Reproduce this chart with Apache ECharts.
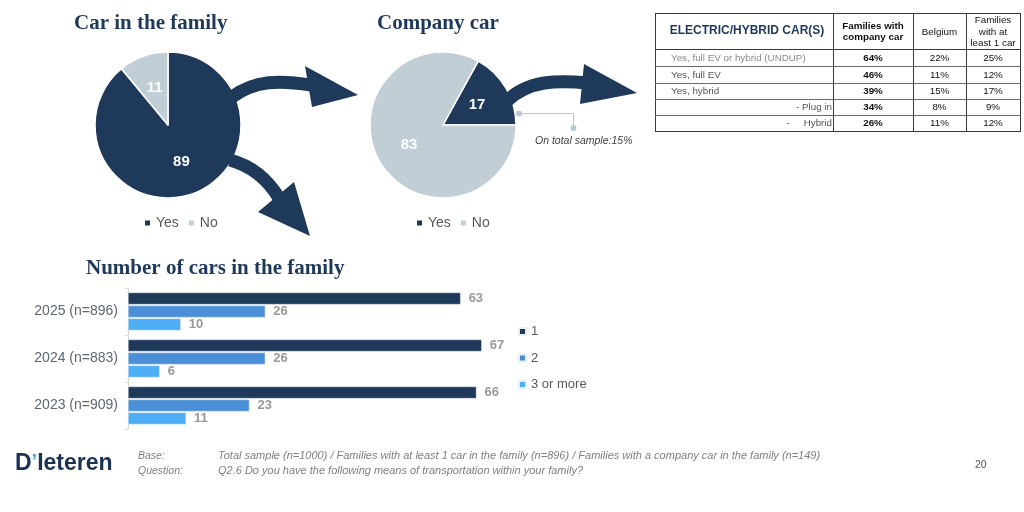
<!DOCTYPE html>
<html><head><meta charset="utf-8">
<script src="https://cdn.jsdelivr.net/npm/echarts@6/dist/echarts.min.js"></script>
<style>html,body{margin:0;padding:0;background:#fff}#c{width:1024px;height:512px}</style>
</head><body><div id="c"></div>
<script>
// ---- data ----
const pieLabels = ['Yes', 'No'];
const carInFamily = [89, 11];
const companyCar = [17, 83];
const years = ['2025 (n=896)', '2024 (n=883)', '2023 (n=909)'];
const carSeriesNames = ['1', '2', '3 or more'];
const cars1 = [63, 67, 66];
const cars2 = [26, 26, 23];
const cars3 = [10, 6, 11];
const tableTitle = 'ELECTRIC/HYBRID CAR(S)';
const tableCols = ['Families with\ncompany car', 'Belgium', 'Families\nwith at\nleast 1 car'];
const tableRows = ['Yes, full EV or hybrid (UNDUP)', 'Yes, full EV', 'Yes, hybrid', '- Plug in', '-     Hybrid'];
const colCompany = [64, 46, 39, 34, 26];
const colBelgium = [22, 11, 15, 8, 11];
const colOneCar = [25, 12, 17, 9, 12];
const calloutText = 'On total sample:15%';
const baseText = 'Total sample (n=1000) / Families with at least 1 car in the family (n=896) / Families with a company car in the family (n=149)';
const questionText = 'Q2.6 Do you have the following means of transportation within your family?';
const pageNumber = '20';

// ---- styles ----
const NAVY = '#1e395a';
const LIGHT = '#c2ced6';
const BLUE2 = '#4a8fd7';
const BLUE3 = '#4daef5';
const SERIF = '"Liberation Serif", "DejaVu Serif", serif';
const SANS = '"Liberation Sans", Arial, sans-serif';

const chart = echarts.init(document.getElementById('c'), null, {renderer: 'canvas'});

// table graphic
const tx = [655, 833, 913, 966, 1020];
const ty = [13, 49, 66, 83, 99, 115, 131];
const tableEls = [];
for (let i = 0; i < tx.length; i++) {
  tableEls.push({type: 'line', shape: {x1: tx[i] + 0.5, y1: ty[0], x2: tx[i] + 0.5, y2: ty[ty.length - 1]}, style: {stroke: '#3a3a3a', lineWidth: 1}});
}
for (let j = 0; j < ty.length; j++) {
  tableEls.push({type: 'line', shape: {x1: tx[0], y1: ty[j] + 0.5, x2: tx[tx.length - 1] + 1, y2: ty[j] + 0.5}, style: {stroke: (j === 0 || j === ty.length - 1 || j === 1) ? '#3a3a3a' : '#6a6a6a', lineWidth: 1}});
}
tableEls.push({type: 'text', x: (tx[0] + tx[1]) / 2 + 3, y: (ty[0] + ty[1]) / 2, style: {text: tableTitle, font: 'bold 12px ' + SANS, fill: NAVY, align: 'center', verticalAlign: 'middle'}});
tableCols.forEach((c, i) => {
  tableEls.push({type: 'text', x: (tx[i + 1] + tx[i + 2]) / 2, y: (ty[0] + ty[1]) / 2 + 1, style: {text: c, font: (i === 0 ? 'bold ' : '') + '9.8px ' + SANS, lineHeight: 11.5, fill: '#111', align: 'center', verticalAlign: 'middle'}});
});
const cols = [colCompany, colBelgium, colOneCar];
tableRows.forEach((r, j) => {
  const cy = (ty[j + 1] + ty[j + 2]) / 2 + 0.5;
  const right = j >= 3;
  tableEls.push({type: 'text', x: right ? tx[1] - 1 : 671, y: cy, style: {text: r, font: '9.8px ' + SANS, fill: j === 0 ? '#8a8a8a' : '#555', align: right ? 'right' : 'left', verticalAlign: 'middle'}});
  cols.forEach((col, i) => {
    tableEls.push({type: 'text', x: (tx[i + 1] + tx[i + 2]) / 2, y: cy, style: {text: col[j] + '%', font: (i === 0 ? 'bold ' : '') + '9.8px ' + SANS, fill: '#111', align: 'center', verticalAlign: 'middle'}});
  });
});

// arrows
function arrow(p0, c1, c2, p1, head) {
  return [
    {type: 'bezierCurve', shape: {x1: p0[0], y1: p0[1], cpx1: c1[0], cpy1: c1[1], cpx2: c2[0], cpy2: c2[1], x2: p1[0], y2: p1[1]}, style: {stroke: NAVY, lineWidth: 13, fill: null}, z: 10},
    {type: 'polygon', shape: {points: head}, style: {fill: NAVY}, z: 10}
  ];
}
const arrows = [].concat(
  arrow([232, 97], [255, 80], [280, 80], [311, 85], [[305, 66], [358, 95], [312, 107]]),
  arrow([230, 160], [252, 166], [268, 180], [279, 198], [[258, 212], [294, 182], [310, 236]]),
  arrow([507, 101], [528, 80], [558, 80], [588, 83], [[584, 64], [637, 93], [580, 104]])
);

const callout = [
  {type: 'polyline', shape: {points: [[519, 113.5], [573.5, 113.5], [573.5, 128]]}, style: {stroke: '#b9c7d1', lineWidth: 1, fill: null}},
  {type: 'circle', shape: {cx: 519, cy: 113.5, r: 3}, style: {fill: '#b9c7d1'}},
  {type: 'circle', shape: {cx: 573.5, cy: 128, r: 3}, style: {fill: '#b9c7d1'}},
  {type: 'text', x: 535, y: 141, style: {text: calloutText, font: 'italic 10.5px ' + SANS, fill: '#404040', verticalAlign: 'middle'}}
];

const footer = [
  {type: 'text', x: 15, y: 464, style: {text: '{d|D}{q|’}{d|Ieteren}', verticalAlign: 'middle', rich: {d: {font: 'bold 23px ' + SANS, fill: '#1b3350'}, q: {font: 'bold 20px ' + SANS, fill: '#4aa3e8', verticalAlign: 'top'}}}},
  {type: 'text', x: 138, y: 456, style: {text: 'Base:', font: 'italic 10.5px ' + SANS, fill: '#7f7f7f', verticalAlign: 'middle'}},
  {type: 'text', x: 138, y: 471, style: {text: 'Question:', font: 'italic 10.5px ' + SANS, fill: '#7f7f7f', verticalAlign: 'middle'}},
  {type: 'text', x: 218, y: 456, style: {text: baseText, font: 'italic 11px ' + SANS, fill: '#7f7f7f', verticalAlign: 'middle'}},
  {type: 'text', x: 218, y: 471, style: {text: questionText, font: 'italic 11px ' + SANS, fill: '#7f7f7f', verticalAlign: 'middle'}},
  {type: 'text', x: 975, y: 465, style: {text: pageNumber, font: '10.5px ' + SANS, fill: '#555', verticalAlign: 'middle'}}
];

const titleStyle = {fontFamily: SERIF, fontWeight: 'bold', fontSize: 21, color: NAVY};
const pieLegendText = {fontSize: 14, color: '#595959', fontFamily: SANS};

const option = {
  animation: false,
  backgroundColor: '#fff',
  title: [
    {text: 'Car in the family', left: 74, top: 13, textStyle: titleStyle, padding: 0},
    {text: 'Company car', left: 377, top: 13, textStyle: titleStyle, padding: 0},
    {text: 'Number of cars in the family', left: 86, top: 258, textStyle: titleStyle, padding: 0}
  ],
  legend: [
    {data: pieLabels, left: 143, top: 216, padding: 0, icon: 'rect', itemWidth: 7, itemHeight: 7, itemGap: 8, selectedMode: false, textStyle: pieLegendText},
    {data: pieLabels, left: 415, top: 216, padding: 0, icon: 'rect', itemWidth: 7, itemHeight: 7, itemGap: 8, selectedMode: false, textStyle: pieLegendText},
    {data: carSeriesNames, left: 518, top: 325, padding: 0, orient: 'vertical', icon: 'rect', itemWidth: 7, itemHeight: 7, itemGap: 13.5, selectedMode: false, textStyle: {fontSize: 13, color: '#595959', fontFamily: SANS}}
  ],
  grid: {left: 128, top: 288, width: 528, height: 141, containLabel: false},
  xAxis: {type: 'value', min: 0, max: 100, show: false},
  yAxis: {
    type: 'category', data: years, inverse: true,
    axisLine: {lineStyle: {color: '#d9d9d9'}},
    axisTick: {show: true, length: 3, lineStyle: {color: '#d9d9d9'}},
    axisLabel: {fontSize: 14, color: '#5d6874', margin: 10, fontFamily: SANS}
  },
  series: [
    {
      type: 'pie', center: [168, 125], radius: 73, startAngle: 90, clockwise: true,
      data: pieLabels.map((n, i) => ({name: n, value: carInFamily[i], itemStyle: {color: i === 0 ? NAVY : LIGHT}})),
      label: {position: 'inside', formatter: '{c}', color: '#fff', fontWeight: 'bold', fontSize: 15, fontFamily: SANS},
      labelLine: {show: false},
      itemStyle: {borderColor: '#fff', borderWidth: 1.5},
      emphasis: {disabled: true}
    },
    {
      type: 'pie', center: [443, 125], radius: 73, startAngle: 61.2, clockwise: true,
      data: pieLabels.map((n, i) => ({name: n, value: companyCar[i], itemStyle: {color: i === 0 ? NAVY : LIGHT}})),
      label: {position: 'inside', formatter: '{c}', color: '#fff', fontWeight: 'bold', fontSize: 15, fontFamily: SANS},
      labelLine: {show: false},
      itemStyle: {borderColor: '#fff', borderWidth: 1.5},
      emphasis: {disabled: true}
    }
  ].concat([cars1, cars2, cars3].map((d, i) => ({
    type: 'bar', name: carSeriesNames[i], data: d, barWidth: 12, barGap: '8%', barCategoryGap: '17%',
    itemStyle: {color: [NAVY, BLUE2, BLUE3][i], borderColor: '#e8eef3', borderWidth: 0.5},
    label: {show: true, position: 'right', distance: 8, color: '#999', fontWeight: 'bold', fontSize: 13, fontFamily: SANS},
    emphasis: {disabled: true}
  }))),
  graphic: [].concat(arrows, tableEls, callout, footer)
};
chart.setOption(option);
</script>
</body></html>
